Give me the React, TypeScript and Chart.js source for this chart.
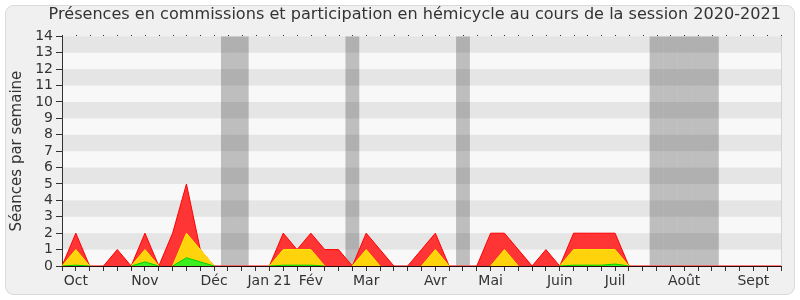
import React, { useEffect, useRef } from 'react';
import { Chart, registerables } from 'chart.js';

Chart.register(...registerables);

const weekLabels: string[] = [
  '', 'Oct', '', '', '', '', 'Nov', '', '', '', '', 'Déc', '', '', '', 'Jan 21', '', '', 'Fév', '', '', '',
  'Mar', '', '', '', '', 'Avr', '', '', '', 'Mai', '', '', '', '', 'Juin', '', '', '', 'Juil', '', '', '', '',
  'Août', '', '', '', '', 'Sept', '', '',
];

const presences: number[] = [
  0, 2, 0, 0, 1, 0, 2, 0, 2, 5, 1, 0, 0, 0, 0, 0, 2, 1, 2, 1, 1, 0, 2, 1, 0, 0, 1, 2, 0, 0, 0, 2, 2, 1, 0, 1,
  0, 2, 2, 2, 2, 0, 0, 0, 0, 0, 0, 0, 0, 0, 0, 0, 0,
];

const participations: number[] = [
  0, 1, 0, 0, 0, 0, 1, 0, 0, 2, 1, 0, 0, 0, 0, 0, 1, 1, 1, 0, 0, 0, 1, 0, 0, 0, 0, 1, 0, 0, 0, 0, 1, 0, 0, 0,
  0, 1, 1, 1, 1, 0, 0, 0, 0, 0, 0, 0, 0, 0, 0, 0, 0,
];

const interventions: number[] = [
  0, 0.05, 0, 0, 0, 0, 0.25, 0, 0, 0.5, 0.25, 0, 0, 0, 0, 0, 0.05, 0.05, 0.05, 0, 0, 0, 0, 0, 0, 0, 0, 0, 0, 0,
  0, 0, 0, 0, 0, 0, 0, 0.05, 0.05, 0.05, 0.12, 0, 0, 0, 0, 0, 0, 0, 0, 0, 0, 0, 0,
];

const vacationWeeks: number[] = [12, 13, 21, 29, 43, 44, 45, 46, 47];
const yMax = 14;

const TITLE = 'Présences en commissions et participation en hémicycle au cours de la session 2020-2021';
const Y_TITLE = 'Séances par semaine';

const backgroundPlugin = {
  id: 'bgStripes',
  beforeDraw(chart: any) {
    const { ctx, chartArea, scales } = chart;
    ctx.save();
    ctx.fillStyle = '#ffffff';
    ctx.fillRect(0, 0, chart.width, chart.height);
    ctx.beginPath();
    (ctx as any).roundRect(5.5, 5.5, chart.width - 11, chart.height - 11, 8);
    ctx.fillStyle = '#f0f0f0';
    ctx.fill();
    ctx.strokeStyle = '#dadada';
    ctx.lineWidth = 1;
    ctx.stroke();
    const { left, right, top, bottom } = chartArea;
    ctx.fillStyle = '#f8f8f8';
    ctx.fillRect(left, top, right - left, bottom - top);
    const y = scales.y;
    ctx.fillStyle = '#e5e5e5';
    for (let v = 1; v < yMax; v += 2) {
      const y1 = y.getPixelForValue(v + 1);
      const y0 = y.getPixelForValue(v);
      ctx.fillRect(left, y1, right - left, y0 - y1);
    }
    ctx.strokeStyle = '#d4d4d4';
    ctx.beginPath();
    ctx.moveTo(Math.round(right) + 0.5, top);
    ctx.lineTo(Math.round(right) + 0.5, bottom);
    ctx.stroke();
    ctx.restore();
  },
  afterDraw(chart: any) {
    const { ctx, chartArea, scales } = chart;
    const x = scales.x;
    ctx.save();
    ctx.fillStyle = '#333333';
    for (let i = 0; i < weekLabels.length; i++) {
      const px = Math.round(x.getPixelForValue(i));
      ctx.fillRect(px, Math.round(chartArea.top) - 1, 1, 1);
    }
    ctx.restore();
  },
};

const zeroSegment = (color: string) => (c: any) =>
  c.p0.parsed.y === 0 && c.p1.parsed.y === 0 ? 'rgba(0,0,0,0)' : color;

export default function App() {
  const canvasRef = useRef<HTMLCanvasElement | null>(null);

  useEffect(() => {
    document.body.style.margin = '0';
    Chart.defaults.font.family = '"DejaVu Sans", Verdana, sans-serif';
    const canvas = canvasRef.current;
    if (!canvas) return;
    const vacationData = weekLabels.map((_, i) => (vacationWeeks.includes(i) ? yMax : null));
    const chart = new Chart(canvas, {
      type: 'line',
      data: {
        labels: weekLabels,
        datasets: [
          {
            label: 'Interventions',
            data: interventions,
            order: 0,
            borderColor: '#00d000',
            backgroundColor: '#3cf020',
            borderWidth: 1,
            pointRadius: 0,
            tension: 0,
            fill: 'origin',
            segment: { borderColor: zeroSegment('#00d000') },
          } as any,
          {
            label: 'Participations',
            data: participations,
            order: 1,
            borderColor: '#ffee00',
            backgroundColor: '#ffd30c',
            borderWidth: 1,
            pointRadius: 0,
            tension: 0,
            fill: 'origin',
            segment: { borderColor: zeroSegment('#ffee00') },
          },
          {
            label: 'Présences',
            data: presences,
            order: 2,
            borderColor: '#ff0000',
            backgroundColor: '#ff3535',
            borderWidth: 1,
            pointRadius: 0,
            tension: 0,
            fill: 'origin',
          },
          {
            type: 'bar',
            label: 'Vacances',
            data: vacationData,
            order: 3,
            backgroundColor: 'rgba(0,0,0,0.23)',
            borderWidth: 0,
            barPercentage: 1,
            categoryPercentage: 1,
            inflateAmount: 0,
          } as any,
        ],
      },
      options: {
        animation: false,
        responsive: false,
        maintainAspectRatio: false,
        layout: { padding: { left: 0, right: 19, top: 0, bottom: 0 } },
        plugins: {
          legend: { display: false },
          tooltip: { enabled: false },
          title: {
            display: true,
            text: TITLE,
            align: 'end',
            color: '#333333',
            font: { size: 16.1, weight: 'normal' },
            padding: { top: 5, bottom: 12 },
          },
        },
        scales: {
          x: {
            type: 'category',
            offset: false,
            grid: { display: true, drawOnChartArea: false, tickLength: 5, color: '#333333', offset: false },
            border: { display: true, color: '#2a0a0a', z: 1 },
            ticks: {
              autoSkip: false,
              maxRotation: 0,
              minRotation: 0,
              padding: 2,
              color: '#333333',
              font: { size: 14 },
            },
            afterFit(scale: any) {
              scale.height = 34;
            },
          },
          y: {
            min: 0,
            max: yMax,
            grid: { display: true, drawOnChartArea: false, tickLength: 6, color: '#333333' },
            border: { display: true, color: '#333333' },
            ticks: {
              stepSize: 1,
              autoSkip: false,
              padding: 3,
              color: '#333333',
              font: { size: 14 },
            },
            title: {
              display: true,
              text: Y_TITLE,
              color: '#333333',
              font: { size: 15 },
              padding: { top: 8, bottom: 0 },
            },
            afterFit(scale: any) {
              scale.width = 62;
            },
          },
        },
      },
      plugins: [backgroundPlugin],
    });
    return () => chart.destroy();
  }, []);

  return (
    <div style={{ width: 800, height: 300 }}>
      <canvas ref={canvasRef} width={800} height={300} style={{ display: 'block' }} />
    </div>
  );
}
